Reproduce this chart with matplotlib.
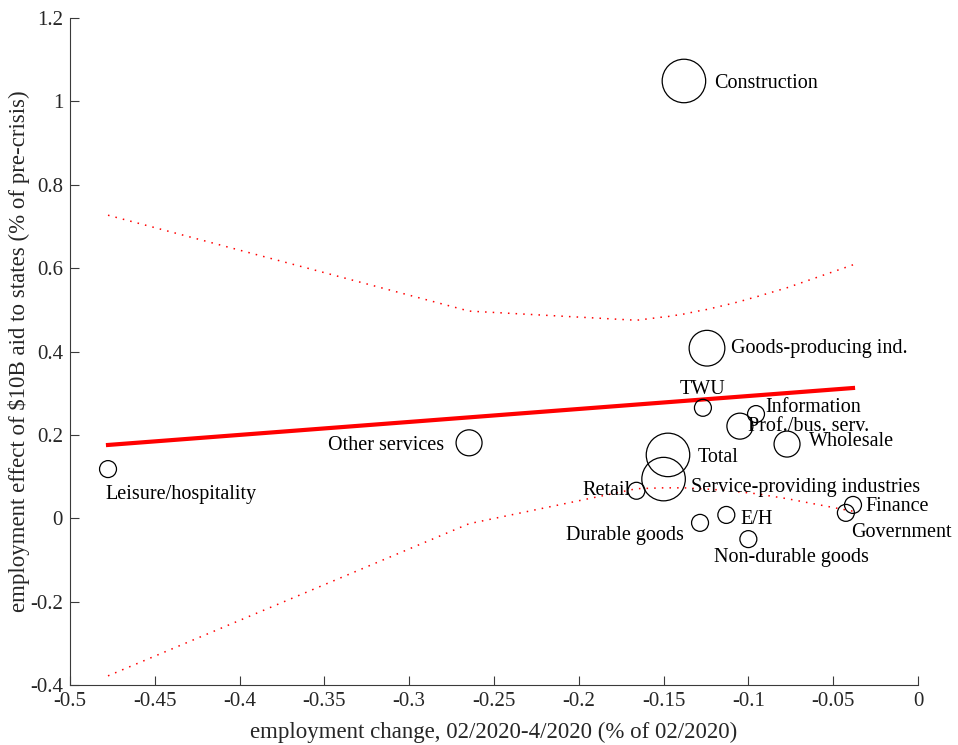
import numpy as np
import matplotlib.pyplot as plt
from matplotlib.ticker import FuncFormatter

plt.rcParams['font.family'] = ['Liberation Serif', 'DejaVu Serif']
plt.rcParams['axes.unicode_minus'] = False

# Industry-level estimates
industries = ['Construction', 'Goods-producing ind.', 'TWU', 'Information',
              'Prof./bus. serv.', 'Wholesale', 'Total',
              'Service-providing industries', 'Retail', 'Finance',
              'Government', 'E/H', 'Durable goods', 'Non-durable goods',
              'Other services', 'Leisure/hospitality']
emp_change = [-0.138, -0.1244, -0.1268, -0.0955, -0.105, -0.0772, -0.1474,
              -0.150, -0.166, -0.0383, -0.0425, -0.113, -0.1285, -0.100,
              -0.2647, -0.4776]
aid_effect = [1.049, 0.408, 0.265, 0.250, 0.221, 0.178, 0.152, 0.094, 0.066,
              0.032, 0.013, 0.008, -0.011, -0.050, 0.181, 0.118]
weight = [981, 661, 149, 149, 350, 350, 981, 981, 149, 149, 149, 149, 149,
          149, 350, 149]

# Fitted line and confidence band at the sorted x values
fit_intercept = 0.3244
fit_slope = 0.311
band_x = [-0.4776, -0.2647, -0.166, -0.150, -0.1474, -0.138, -0.1285,
          -0.1268, -0.1244, -0.113, -0.105, -0.100, -0.0955, -0.0772,
          -0.0425, -0.0383]
band_hi = [0.727, 0.497, 0.475, 0.483, 0.484, 0.490, 0.498, 0.499, 0.501,
           0.512, 0.520, 0.526, 0.531, 0.553, 0.602, 0.608]
band_lo = [-0.378, -0.013, 0.071, 0.073, 0.073, 0.073, 0.071, 0.071, 0.070,
           0.067, 0.063, 0.061, 0.059, 0.047, 0.020, 0.017]

# label offsets in points and horizontal alignment
label_pos = {
    'Construction': (21.6, -2, 'left'),
    'Goods-producing ind.': (17.3, 0, 'left'),
    'TWU': (0, 13, 'center'),
    'Information': (7, 5, 'left'),
    'Prof./bus. serv.': (6, 0, 'left'),
    'Wholesale': (16, 2, 'left'),
    'Total': (21.6, -2, 'left'),
    'Service-providing industries': (19.4, -6, 'left'),
    'Retail': (-4, 0, 'right'),
    'Finance': (9, -1, 'left'),
    'Government': (4, -14, 'left'),
    'E/H': (10, -3, 'left'),
    'Durable goods': (-11.5, -9, 'right'),
    'Non-durable goods': (-24.5, -13, 'left'),
    'Other services': (-18, -2, 'right'),
    'Leisure/hospitality': (-2, -18, 'left'),
}

fig = plt.figure(figsize=(9.58, 7.45), dpi=100)
ax = fig.add_axes([0.0731, 0.0805, 0.8851, 0.8953])

ax.scatter(emp_change, aid_effect, s=weight, facecolors='none',
           edgecolors='black', linewidths=0.9, zorder=3)

xs = np.array([min(emp_change), max(emp_change)])
ax.plot(xs, fit_intercept + fit_slope * xs, color='red', lw=3, zorder=2)
ax.plot(band_x, band_hi, color='red', ls=(0, (1, 4)), lw=1.1)
ax.plot(band_x, band_lo, color='red', ls=(0, (1, 4)), lw=1.1)

for name, x, y in zip(industries, emp_change, aid_effect):
    dx, dy, ha = label_pos[name]
    ax.annotate(name, (x, y), xytext=(dx, dy), textcoords='offset points',
                ha=ha, va='center', fontsize=14.5, zorder=4)

ax.set_xlim(-0.5, 0)
ax.set_ylim(-0.4, 1.2)
ax.set_xticks(np.arange(-0.5, 0.001, 0.05))
ax.set_yticks(np.arange(-0.4, 1.201, 0.2))
fmt = FuncFormatter(lambda v, p: '%g' % (round(v, 2) + 0.0))
ax.xaxis.set_major_formatter(fmt)
ax.yaxis.set_major_formatter(fmt)

for side in ['top', 'right']:
    ax.spines[side].set_visible(False)
for side in ['left', 'bottom']:
    ax.spines[side].set_color('#3a3a3a')
ax.tick_params(direction='in', length=6.5, width=0.8, color='#3a3a3a',
               labelsize=15, labelcolor='#262626', pad=5)

ax.set_xlabel('employment change, 02/2020-4/2020 (% of 02/2020)',
              fontsize=16.5, color='#262626', labelpad=8)
ax.set_ylabel(r'employment effect of \$10B aid to states (% of pre-crisis)',
              fontsize=16.5, color='#262626', labelpad=0)

fig.savefig('out.png', dpi=100)
